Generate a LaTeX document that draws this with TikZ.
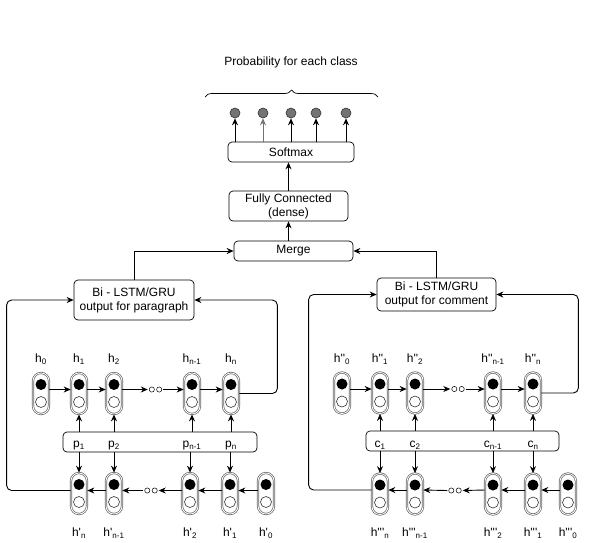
\documentclass[tikz,border=0pt]{standalone}
\usepackage{fontspec}
\setmainfont{Liberation Sans}
\usetikzlibrary{arrows.meta,decorations.pathreplacing}
\newcommand{\lsub}[1]{\textsubscript{#1}}
\newcommand{\ap}{\textquotesingle}

\begin{document}
\begin{tikzpicture}[x=1pt,y=-1pt,
    font=\fontsize{12}{14}\selectfont,
    box/.style={draw, rounded corners=4pt, line width=0.7pt, align=center, inner sep=0pt},
    pill/.style={draw=black!60, double=white, double distance=0.8pt, line width=0.7pt, rounded corners=8pt,
      minimum width=16pt, minimum height=41pt, inner sep=0pt,
      path picture={
        \fill[black] ([yshift=9pt]path picture bounding box.center) circle (5.5pt);
        \draw[black!80, fill=white, line width=0.6pt] ([yshift=-8.5pt]path picture bounding box.center) circle (5.5pt);
      }},
    outc/.style={circle, draw=black!80, fill=black!55, minimum size=10pt, inner sep=0pt, line width=0.6pt},
    dots/.style={minimum width=15pt, minimum height=8pt, inner sep=0pt,
      path picture={
        \draw[line width=0.5pt] ([xshift=-3.7pt]path picture bounding box.center) circle (2.6pt);
        \draw[line width=0.5pt] ([xshift=3.7pt]path picture bounding box.center) circle (2.6pt);
      }},
    arr/.style={-{Stealth[length=7pt,width=6pt]}, line width=0.9pt},
    conn/.style={line width=0.9pt}]
  \useasboundingbox (0,0) rectangle (591,542);

  % output side
  \node (title) at (291,62) {Probability for each class};
  \coordinate (bl) at (205,97);
  \coordinate (br) at (378,97);
  \draw[decorate, decoration={brace, amplitude=7pt}, line width=0.7pt] (bl) -- (br);

  \node[outc] (o1) at (235,113) {};
  \node[outc] (o2) at (263,113) {};
  \node[outc] (o3) at (291,113) {};
  \node[outc] (o4) at (316,113) {};
  \node[outc] (o5) at (346,113) {};

  \node[box, minimum width=126pt, minimum height=20pt] (sm) at (291,152) {Softmax};
  \node[box, minimum width=119pt, minimum height=30pt] (fc) at (288.5,206) {Fully Connected\\(dense)};
  \node[box, minimum width=119pt, minimum height=20pt] (mg) at (293.5,251) {Merge};

  \draw[arr] (sm.north -| o1) -- (o1.south);
  \draw[arr, draw=black!55] (sm.north -| o2) -- (o2.south);
  \draw[arr] (sm.north -| o3) -- (o3.south);
  \draw[arr] (sm.north -| o4) -- (o4.south);
  \draw[arr] (sm.north -| o5) -- (o5.south);
  \draw[arr] (fc.north) -- (fc.north |- sm.south);
  \draw[arr] (fc.south |- mg.north) -- (fc.south);

  % the two encoders
  \node[box, minimum width=120pt, minimum height=40pt] (pA) at (134,300) {Bi - LSTM/GRU\\output for paragraph};
  \node[box, minimum width=119pt, minimum height=33pt] (pB) at (436.5,294.5) {Bi - LSTM/GRU\\output for comment};
  \draw[arr] (pA.north) |- (mg.west);
  \draw[arr] (pB.north) |- (mg.east);

  % paragraph side
  \foreach \x/\i/\t in {41/0/{h\lsub{0}}, 79/1/{h\lsub{1}}, 114/2/{h\lsub{2}}, 192/3/{h\lsub{n-1}}, 231/4/{h\lsub{n}}} {
    \node[pill] (a\i) at (\x,393.5) {};
    \node (la\i) at (\x,359) {\t};
  }
  \foreach \x/\i/\t in {79/0/{h\ap\lsub{n}}, 114/1/{h\ap\lsub{n-1}}, 190/2/{h\ap\lsub{2}}, 230/3/{h\ap\lsub{1}}, 266/4/{h\ap\lsub{0}}} {
    \node[pill] (b\i) at (\x,493.5) {};
    \node (lb\i) at (\x,533) {\t};
  }
  \node[box, minimum width=194pt, minimum height=20pt] (pb) at (160,442) {};
  \node (p1) at (79,446) {p\lsub{1}};
  \node (p2) at (114,446) {p\lsub{2}};
  \node (p3) at (192,446) {p\lsub{n-1}};
  \node (p4) at (231,446) {p\lsub{n}};
  \node[dots] (dA) at (155.5,389.5) {};
  \node[dots] (dB) at (151,490.5) {};

  \draw[arr] ([yshift=4pt]a0.east) -- ([yshift=4pt]a1.west);
  \draw[arr] ([yshift=4pt]a1.east) -- ([yshift=4pt]a2.west);
  \draw[arr] ([yshift=4pt]a2.east) -- (dA.west);
  \draw[arr] (dA.east) -- ([yshift=4pt]a3.west);
  \draw[arr] ([yshift=4pt]a3.east) -- ([yshift=4pt]a4.west);
  \draw[arr] ([yshift=3pt]b4.west) -- ([yshift=3pt]b3.east);
  \draw[arr] ([yshift=3pt]b3.west) -- ([yshift=3pt]b2.east);
  \draw[arr] ([yshift=3pt]b2.west) -- (dB.east);
  \draw[arr] (dB.west) -- ([yshift=3pt]b1.east);
  \draw[arr] ([yshift=3pt]b1.west) -- ([yshift=3pt]b0.east);
  \foreach \i in {1,...,4}
    \draw[arr] (pb.north -| a\i) -- (a\i.south);
  \foreach \i in {0,...,3}
    \draw[arr] (pb.south -| b\i) -- (b\i.north);
  \draw[arr, rounded corners=5pt] ([yshift=3pt]b0.west) -- ++(-64,0) |- (pA.west);
  \draw[arr, rounded corners=5pt] (a4.east) -- ++(38,0) |- (pA.east);

  % comment side
  \foreach \x/\i/\t in {342/0/{h\ap\ap\lsub{0}}, 380/1/{h\ap\ap\lsub{1}}, 415/2/{h\ap\ap\lsub{2}}, 493/3/{h\ap\ap\lsub{n-1}}, 533/4/{h\ap\ap\lsub{n}}} {
    \node[pill] (c\i) at (\x,393) {};
    \node (lc\i) at (\x,359) {\t};
  }
  \foreach \x/\i/\t in {380/0/{h\ap\ap\ap\lsub{n}}, 415/1/{h\ap\ap\ap\lsub{n-1}}, 493/2/{h\ap\ap\ap\lsub{2}}, 533/3/{h\ap\ap\ap\lsub{1}}, 568/4/{h\ap\ap\ap\lsub{0}}} {
    \node[pill] (d\i) at (\x,494) {};
    \node (ld\i) at (\x,533) {\t};
  }
  \node[box, minimum width=193pt, minimum height=20pt] (cb) at (462.5,441) {};
  \node (q1) at (380,445) {c\lsub{1}};
  \node (q2) at (415,445) {c\lsub{2}};
  \node (q3) at (493,445) {c\lsub{n-1}};
  \node (q4) at (533,445) {c\lsub{n}};
  \node[dots] (dC) at (458,389) {};
  \node[dots] (dD) at (455,490.5) {};

  \draw[arr] ([yshift=4pt]c0.east) -- ([yshift=4pt]c1.west);
  \draw[arr] ([yshift=4pt]c1.east) -- ([yshift=4pt]c2.west);
  \draw[arr] ([yshift=4pt]c2.east) -- (dC.west);
  \draw[arr] (dC.east) -- ([yshift=4pt]c3.west);
  \draw[arr] ([yshift=4pt]c3.east) -- ([yshift=4pt]c4.west);
  \draw[arr] ([yshift=4pt]d4.west) -- ([yshift=4pt]d3.east);
  \draw[arr] ([yshift=4pt]d3.west) -- ([yshift=4pt]d2.east);
  \draw[arr] ([yshift=4pt]d2.west) -- (dD.east);
  \draw[arr] (dD.west) -- ([yshift=4pt]d1.east);
  \draw[arr] ([yshift=4pt]d1.west) -- ([yshift=4pt]d0.east);
  \foreach \i in {1,...,4}
    \draw[arr] (cb.north -| c\i) -- (c\i.south);
  \foreach \i in {0,...,3}
    \draw[arr] (cb.south -| d\i) -- (d\i.north);
  \draw[arr, rounded corners=5pt] ([yshift=4pt]d0.west) -- ++(-63,0) |- (pB.west);
  \draw[arr, rounded corners=5pt] (c4.east) -- ++(37,0) |- (pB.east);
\end{tikzpicture}
\end{document}
